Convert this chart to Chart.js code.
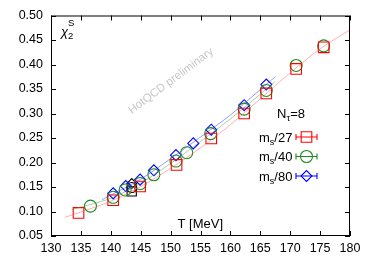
<!DOCTYPE html>
<html>
<head>
<meta charset="utf-8">
<script src="https://cdn.jsdelivr.net/npm/chart.js@4.4.1/dist/chart.umd.min.js"></script>
<style>
  html, body { margin: 0; padding: 0; background: #fff; }
  #wrap { width: 374px; height: 262px; }
</style>
</head>
<body>
<div id="wrap"><canvas id="chi"></canvas></div>
<script>
// datos
const xTicks = [130, 135, 140, 145, 150, 155, 160, 165, 170, 175, 180];
const yTicks = [0.05, 0.10, 0.15, 0.20, 0.25, 0.30, 0.35, 0.40, 0.45, 0.50];

const T27 = [134.6, 140.4, 144.9, 151.0, 156.8, 162.3, 166.0, 171.0, 175.6];
const chi27 = [0.097, 0.123, 0.151, 0.195, 0.249, 0.300, 0.341, 0.391, 0.435];

const T40 = [136.6, 140.4, 142.4, 144.9, 147.2, 150.9, 152.7, 156.7, 162.3, 166.0, 171.0, 175.6];
const chi40 = [0.111, 0.129, 0.144, 0.157, 0.175, 0.203, 0.220, 0.259, 0.309, 0.347, 0.398, 0.438];

const T80 = [140.4, 142.5, 144.9, 147.2, 150.9, 153.8, 156.8, 162.3, 166.0];
const chi80 = [0.137, 0.152, 0.165, 0.184, 0.215, 0.239, 0.267, 0.317, 0.359];

// puntos negros (Tc)
const Tblack = [143.5, 143.5, 143.5];
const chiBlack = [0.141, 0.149, 0.157];

// curvas de ajuste
const fitT27 = [132.3, 135, 140, 145, 150, 155, 160, 165, 170, 175, 180];
const fitChi27 = [0.088, 0.099, 0.121, 0.151, 0.188, 0.230, 0.277, 0.330, 0.383, 0.432, 0.471];
const fitT40 = [133.5, 140, 145, 150, 155, 160, 167.5];
const fitChi40 = [0.104, 0.127, 0.158, 0.198, 0.243, 0.289, 0.365];
const fitT80 = [138.5, 145, 150, 155, 160, 167.5];
const fitChi80 = [0.124, 0.166, 0.208, 0.252, 0.297, 0.375];

const series = [
  { label: 'm_s/27', T: T27, chi: chi27, color: '#ff0000', style: 'rect', r: 7.5 },
  { label: 'm_s/40', T: T40, chi: chi40, color: '#1e8a1e', style: 'circle', r: 6 },
  { label: 'm_s/80', T: T80, chi: chi80, color: '#0000ff', style: 'rectRot', r: 5.5 }
];
const fits = [
  { T: fitT27, chi: fitChi27, color: 'rgba(255,80,80,0.45)' },
  { T: fitT40, chi: fitChi40, color: 'rgba(60,150,60,0.45)' },
  { T: fitT80, chi: fitChi80, color: 'rgba(60,60,255,0.5)' }
];

const pts = (xs, ys) => xs.map((x, i) => ({ x: x, y: ys[i] }));

const datasets = [];
fits.forEach(f => datasets.push({
  data: pts(f.T, f.chi), showLine: true, borderColor: f.color, borderWidth: 1,
  pointRadius: 0, tension: 0.3, fill: false
}));
series.forEach(s => datasets.push({
  data: pts(s.T, s.chi), showLine: false, pointStyle: s.style, pointRadius: s.r,
  borderColor: s.color, backgroundColor: 'rgba(0,0,0,0)', pointBorderWidth: 1.1
}));
datasets.push({
  data: pts(Tblack, chiBlack), showLine: false,
  pointStyle: ['rect', 'circle', 'rectRot'], pointRadius: [6.5, 5, 5],
  borderColor: '#000', backgroundColor: 'rgba(0,0,0,0)', pointBorderWidth: 1.1
});

const FONT = "'Liberation Sans', Arial, sans-serif";

// marco, ticks hacia dentro y textos
const decor = {
  id: 'decor',
  afterDraw(chart) {
    const ctx = chart.ctx;
    const a = chart.chartArea;
    const xs = chart.scales.x, ys = chart.scales.y;
    ctx.save();

    // marca de agua
    ctx.save();
    ctx.translate(171, 81);
    ctx.rotate(-36.7 * Math.PI / 180);
    ctx.fillStyle = '#c8c8c8';
    ctx.font = '11.5px ' + FONT;
    ctx.textAlign = 'center';
    ctx.textBaseline = 'middle';
    ctx.fillText('HotQCD preliminary', 0, 0);
    ctx.restore();

    ctx.strokeStyle = '#000';
    ctx.lineWidth = 1;
    ctx.strokeRect(a.left + 0.5, a.top + 0.5, a.right - a.left - 1, a.bottom - a.top - 1);
    ctx.beginPath();
    xTicks.forEach(v => {
      const px = Math.round(xs.getPixelForValue(v)) + 0.5;
      ctx.moveTo(px, a.bottom); ctx.lineTo(px, a.bottom - 5);
      ctx.moveTo(px, a.top); ctx.lineTo(px, a.top + 5);
    });
    yTicks.forEach(v => {
      const py = Math.round(ys.getPixelForValue(v)) + 0.5;
      ctx.moveTo(a.left, py); ctx.lineTo(a.left + 5, py);
      ctx.moveTo(a.right, py); ctx.lineTo(a.right - 5, py);
    });
    ctx.stroke();

    ctx.fillStyle = '#000';
    ctx.textBaseline = 'alphabetic';
    // chi_2^S
    ctx.textAlign = 'left';
    ctx.font = 'italic 13px ' + FONT;
    ctx.fillText('\u03c7', 61, 36);
    ctx.font = '9.5px ' + FONT;
    ctx.fillText('S', 68, 26);
    ctx.fillText('2', 68, 39);

    // T [MeV]
    ctx.font = '13px ' + FONT;
    ctx.textAlign = 'right';
    ctx.fillText('T [MeV]', 223, 228);

    // N_tau=8
    ctx.textAlign = 'left';
    ctx.font = '13px ' + FONT;
    ctx.fillText('N', 277, 118);
    let w = ctx.measureText('N').width;
    ctx.font = '9.5px ' + FONT;
    ctx.fillText('\u03c4', 277 + w, 121);
    let w2 = ctx.measureText('\u03c4').width;
    ctx.font = '13px ' + FONT;
    ctx.fillText('=8', 277 + w + w2, 118);

    // leyenda estilo gnuplot
    const rows = [137, 156.5, 176];
    series.forEach((s, i) => {
      const y = rows[i];
      const num = s.label.split('/')[1];
      ctx.fillStyle = '#000';
      ctx.font = '13px ' + FONT;
      ctx.fillText('m', 259, y + 4.5);
      const mw = ctx.measureText('m').width;
      ctx.font = '9px ' + FONT;
      ctx.fillText('s', 259 + mw, y + 7.5);
      const sw = ctx.measureText('s').width;
      ctx.font = '13px ' + FONT;
      ctx.fillText('/' + num, 259 + mw + sw, y + 4.5);

      const cx = 306.5;
      ctx.strokeStyle = s.color;
      ctx.lineWidth = 1.1;
      ctx.beginPath();
      ctx.moveTo(296, y); ctx.lineTo(317, y);
      ctx.moveTo(296, y - 3); ctx.lineTo(296, y + 3);
      ctx.moveTo(317, y - 3); ctx.lineTo(317, y + 3);
      ctx.stroke();
      ctx.fillStyle = 'rgba(0,0,0,0)';
      Chart.helpers.drawPoint(ctx, { pointStyle: s.style, radius: s.r, borderWidth: 1.1 }, cx, y);
    });
    ctx.restore();
  }
};

new Chart(document.getElementById('chi'), {
  type: 'scatter',
  data: { datasets: datasets },
  plugins: [decor],
  options: {
    responsive: true,
    maintainAspectRatio: false,
    animation: false,
    layout: { padding: { top: 15, right: 24, left: 0, bottom: 0 } },
    plugins: { legend: { display: false }, tooltip: { enabled: false } },
    scales: {
      x: {
        type: 'linear', min: 130, max: 180,
        afterBuildTicks: s => { s.ticks = xTicks.map(v => ({ value: v })); },
        afterFit: s => { s.height = 26; },
        grid: { display: false, drawTicks: false },
        border: { display: false },
        ticks: { color: '#000', font: { family: FONT, size: 12.5 }, padding: 5, maxRotation: 0 }
      },
      y: {
        min: 0.05, max: 0.50,
        afterBuildTicks: s => { s.ticks = yTicks.map(v => ({ value: v })); },
        afterFit: s => { s.width = 51; },
        grid: { display: false, drawTicks: false },
        border: { display: false },
        ticks: { color: '#000', font: { family: FONT, size: 12.5 }, padding: 8,
                 callback: v => v.toFixed(2) }
      }
    }
  }
});
</script>
</body>
</html>
